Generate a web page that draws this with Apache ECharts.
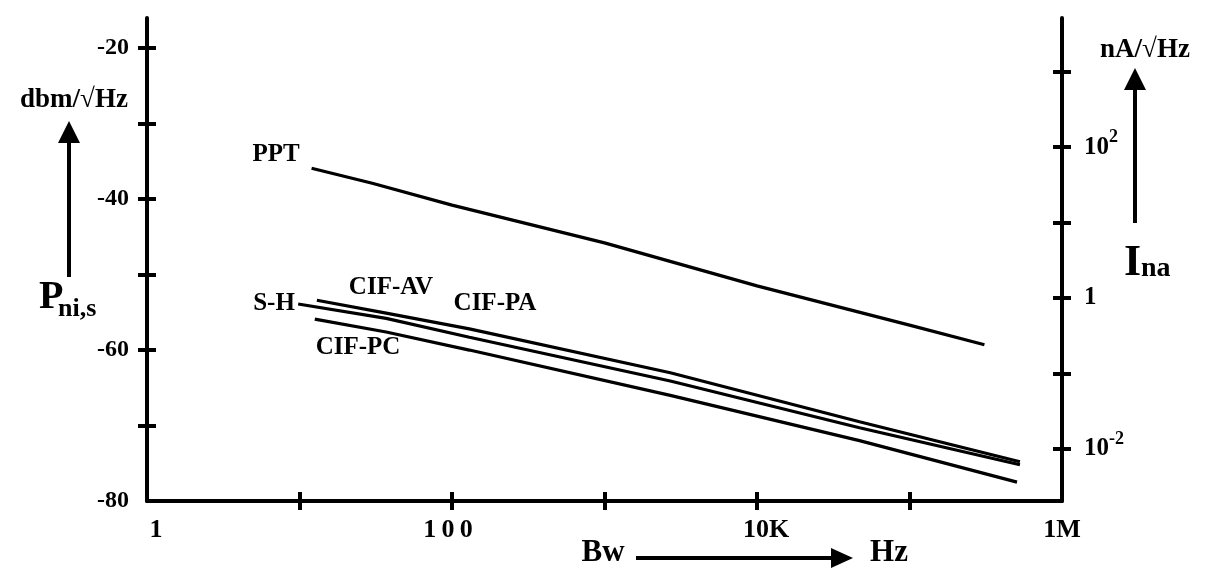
<!DOCTYPE html>
<html>
<head>
<meta charset="utf-8">
<script src="https://cdn.jsdelivr.net/npm/echarts@6/dist/echarts.min.js"></script>
<style>
  html, body { margin: 0; padding: 0; background: #fff; }
  #main { width: 1209px; height: 569px; }
</style>
</head>
<body>
<div id="main"></div>
<script>
// bandwidth (Hz) and noise level (dbm/sqrt(Hz))
const pptFreq = [12, 30, 100, 1000, 10000, 100000, 310000];
const pptLevel = [-35.9, -37.9, -40.8, -45.8, -51.5, -56.7, -59.3];

const avFreq = [13, 37, 130, 2700, 47000, 530000];
const avLevel = [-53.4, -55.1, -57.2, -63.0, -69.5, -74.8];

const shFreq = [9.8, 37, 130, 2700, 47000, 530000];
const shLevel = [-53.9, -55.8, -58.3, -64.1, -70.3, -75.2];

const pcFreq = [12.6, 37, 130, 2700, 47000, 507000];
const pcLevel = [-55.9, -57.6, -60.0, -66.0, -72.0, -77.5];

// axis ticks
const xTicks = [10, 100, 1000, 10000, 100000];
const xLabels = [1, 100, 10000, 1000000];
const xLabelText = { 1: "{l|1}", 100: "{r|1\u20090\u20090}", 10000: "{l|10K}", 1000000: "1M" };
const leftTicks = [-70, -60, -50, -40, -30, -20];
const leftLabels = [-80, -60, -40, -20];
const rightTicks = [-2, -1, 0, 1, 2, 3]; // log10(nA/sqrt(Hz))
const rightLabels = [-2, 0, 2];

const zip = (a, b) => a.map((v, i) => [v, b[i]]);

const font = "Liberation Serif";
const black = "#000";

function xAxisCfg(grid, inner) {
  const base = { fontFamily: font, fontWeight: "bold", fontSize: 26, color: black };
  return {
    type: "log",
    logBase: 10,
    gridIndex: grid,
    min: 1,
    max: 1000000,
    axisLine: { show: !inner, onZero: false, lineStyle: { color: black, width: 4 } },
    axisTick: {
      show: true, inside: inner, length: 9, customValues: xTicks,
      lineStyle: { color: black, width: 4 }
    },
    axisLabel: Object.assign({
      show: !inner, customValues: xLabels, margin: 16,
      formatter: v => xLabelText[Math.round(v)] || "",
      rich: {
        l: Object.assign({ padding: [0, 0, 0, 18] }, base),
        r: Object.assign({ padding: [0, 8, 0, 0] }, base)
      }
    }, base),
    splitLine: { show: false },
    minorTick: { show: false }
  };
}

function leftAxisCfg(grid, inner) {
  return {
    type: "value",
    gridIndex: grid,
    position: "left",
    min: -80,
    max: -16,
    axisLine: { show: !inner, onZero: false, lineStyle: { color: black, width: 4 } },
    axisTick: {
      show: true, inside: inner, length: 9, customValues: leftTicks,
      lineStyle: { color: black, width: 4 }
    },
    axisLabel: {
      show: !inner, customValues: leftLabels, margin: 18,
      fontFamily: font, fontWeight: "bold", fontSize: 24, color: black
    },
    splitLine: { show: false }
  };
}

function rightAxisCfg(grid, inner) {
  return {
    type: "value",
    gridIndex: grid,
    position: "right",
    min: -2.69,
    max: 3.71,
    axisLine: { show: !inner, onZero: false, lineStyle: { color: black, width: 4 } },
    axisTick: {
      show: true, inside: inner, length: 9, customValues: rightTicks,
      lineStyle: { color: black, width: 4 }
    },
    axisLabel: {
      show: !inner, customValues: rightLabels, margin: 22,
      fontFamily: font, fontWeight: "bold", fontSize: 25, color: black,
      formatter: v => v === 0 ? "1" : "10{s|" + v + "}",
      rich: {
        s: { fontFamily: font, fontWeight: "bold", fontSize: 18, color: black, padding: [0, 0, 20, 0] }
      }
    },
    splitLine: { show: false }
  };
}

function txt(text, x, y, size, align) {
  return {
    type: "text",
    x: x,
    y: y,
    style: {
      text: text,
      fontFamily: font,
      fontWeight: "bold",
      fontSize: size,
      fill: black,
      align: align || "center",
      verticalAlign: "middle"
    }
  };
}

function line(x1, y1, x2, y2) {
  return {
    type: "line",
    shape: { x1: x1, y1: y1, x2: x2, y2: y2 },
    style: { stroke: black, lineWidth: 4 }
  };
}

function head(points) {
  return { type: "polygon", shape: { points: points }, style: { fill: black } };
}

function curve(name, f, v) {
  return {
    name: name,
    type: "line",
    xAxisIndex: 0,
    yAxisIndex: 0,
    data: zip(f, v),
    symbol: "none",
    smooth: false,
    lineStyle: { color: black, width: 3.2 }
  };
}

const chart = echarts.init(document.getElementById("main"));
chart.setOption({
  backgroundColor: "#fff",
  animation: false,
  grid: [
    { left: 147, right: 147, top: 18, bottom: 68 },
    { left: 147, right: 147, top: 18, bottom: 68 }
  ],
  xAxis: [xAxisCfg(0, false), xAxisCfg(1, true)],
  yAxis: [
    leftAxisCfg(0, false), rightAxisCfg(0, false),
    leftAxisCfg(1, true), rightAxisCfg(1, true)
  ],
  series: [
    curve("PPT", pptFreq, pptLevel),
    curve("CIF-AV", avFreq, avLevel),
    curve("S-H", shFreq, shLevel),
    curve("CIF-PC", pcFreq, pcLevel)
  ],
  graphic: [
    txt("PPT", 276, 155, 25),
    txt("S-H", 274, 304, 25),
    txt("CIF-AV", 391, 288, 25),
    txt("CIF-PA", 495, 304, 25),
    txt("CIF-PC", 358, 348, 25),

    txt("dbm/\u221AHz", 74, 100, 27),
    line(69, 277, 69, 138),
    head([[69, 121], [58, 143], [80, 143]]),
    txt("P", 39, 298, 40, "left"),
    txt("ni,s", 58, 309, 26, "left"),

    txt("nA/\u221AHz", 1145, 50, 27),
    line(1135, 223, 1135, 85),
    head([[1135, 68], [1124, 90], [1146, 90]]),
    txt("I", 1124, 264, 44, "left"),
    txt("na", 1141, 269, 28, "left"),

    txt("Bw", 603, 553, 31),
    txt("Hz", 889, 553, 31),
    line(636, 558, 836, 558),
    head([[853, 558], [831, 548], [831, 568]])
  ]
});
</script>
</body>
</html>
